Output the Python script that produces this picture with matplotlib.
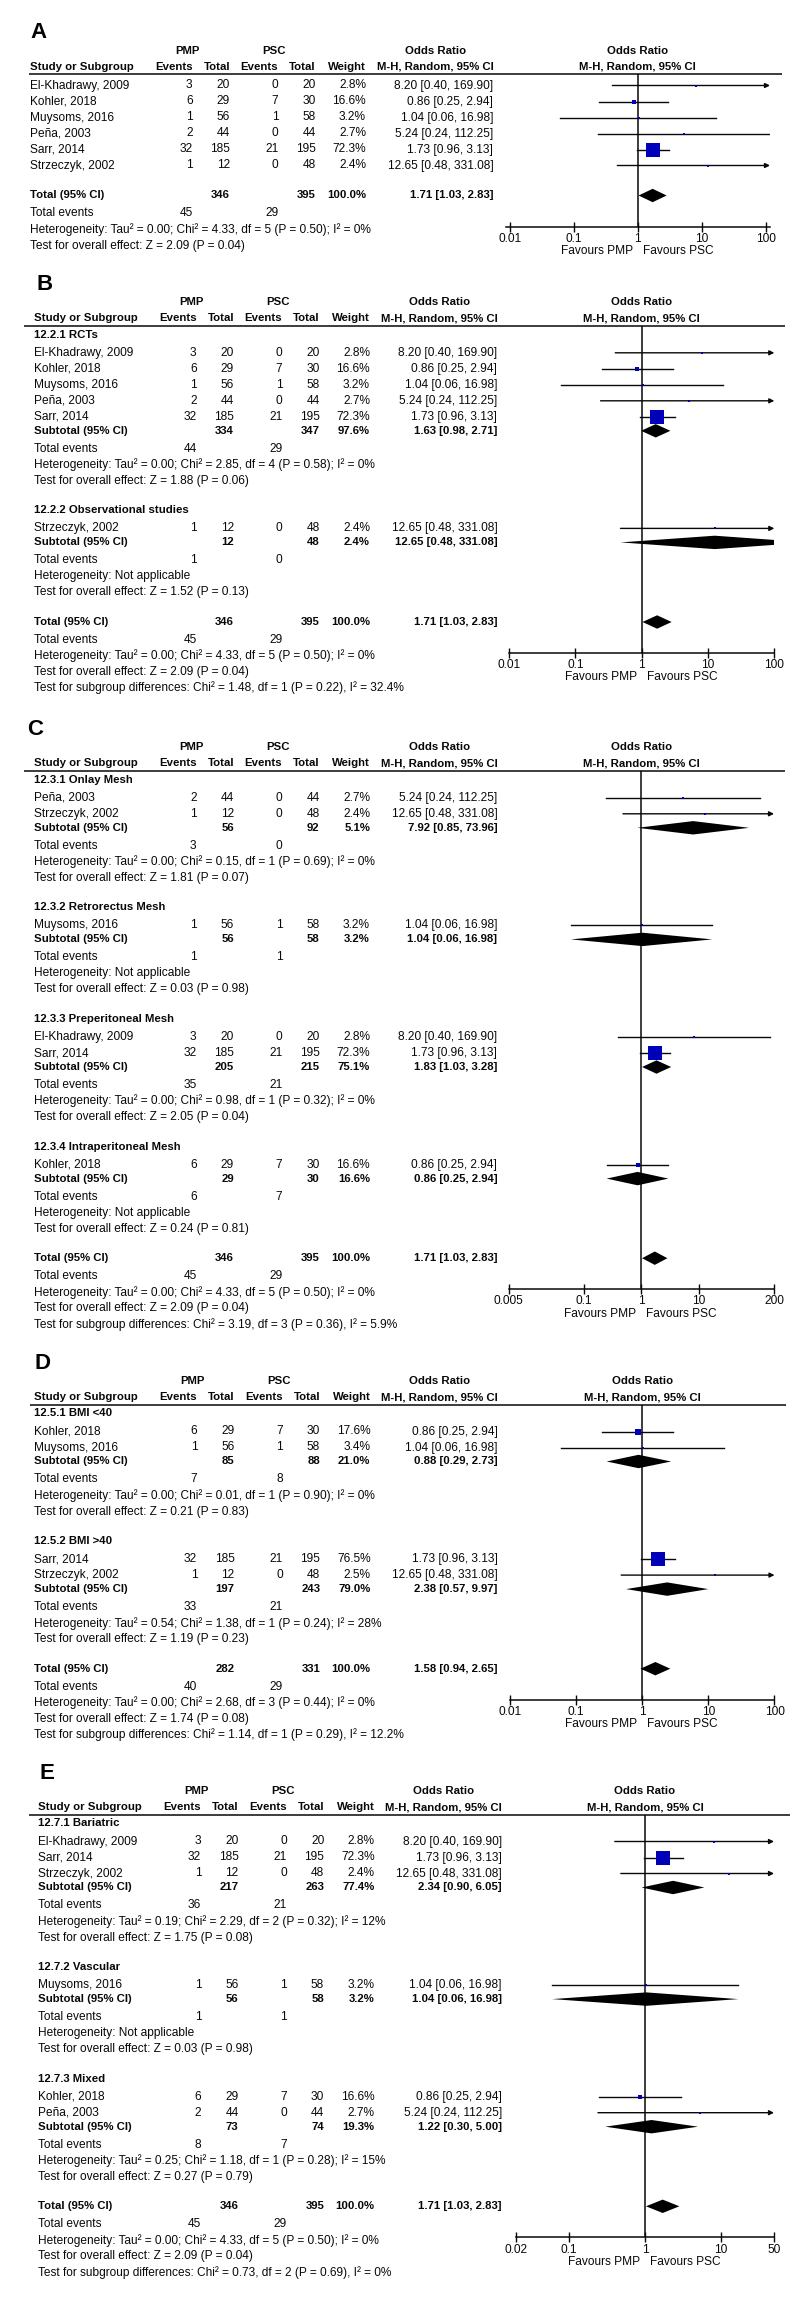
import matplotlib
matplotlib.use('Agg')
import matplotlib.pyplot as plt
from matplotlib.ticker import NullLocator

plt.rcParams['font.family'] = ['Liberation Sans', 'DejaVu Sans']

W, H = 800, 2310
TXT = '#080808'
BLUE = '#0000b8'
FS = 8.6    # regular text
FSB = 8.2   # bold text

# ---- individual studies (same in every panel) ----
study_names = ['El-Khadrawy, 2009', 'Kohler, 2018', 'Muysoms, 2016',
               'Peña, 2003', 'Sarr, 2014', 'Strzeczyk, 2002']
pmp_events = [3, 6, 1, 2, 32, 1]
pmp_total = [20, 29, 56, 44, 185, 12]
psc_events = [0, 7, 1, 0, 21, 0]
psc_total = [20, 30, 58, 44, 195, 48]
or_est = [8.20, 0.86, 1.04, 5.24, 1.73, 12.65]
or_low = [0.40, 0.25, 0.06, 0.24, 0.96, 0.48]
or_high = [169.90, 2.94, 16.98, 112.25, 3.13, 331.08]
weights = [2.8, 16.6, 3.2, 2.7, 72.3, 2.4]
weights_bmi = [0, 17.6, 3.4, 0, 76.5, 2.5]

# ---- overall result (A, B, C, E) ----
all_n = (346, 395)
all_or = (1.71, 1.03, 2.83)
all_events = (45, 29)
all_het = 'Heterogeneity: Tau² = 0.00; Chi² = 4.33, df = 5 (P = 0.50); I² = 0%'
all_z = 'Test for overall effect: Z = 2.09 (P = 0.04)'

# ---- B: study design ----
b_titles = ['12.2.1 RCTs', '12.2.2 Observational studies']
b_members = [[0, 1, 2, 3, 4], [5]]
b_n = [(334, 347), (12, 48)]
b_w = [97.6, 2.4]
b_or = [(1.63, 0.98, 2.71), (12.65, 0.48, 331.08)]
b_events = [(44, 29), (1, 0)]
b_het = ['Heterogeneity: Tau² = 0.00; Chi² = 2.85, df = 4 (P = 0.58); I² = 0%',
         'Heterogeneity: Not applicable']
b_z = ['Test for overall effect: Z = 1.88 (P = 0.06)',
       'Test for overall effect: Z = 1.52 (P = 0.13)']
b_diff = 'Test for subgroup differences: Chi² = 1.48, df = 1 (P = 0.22), I² = 32.4%'

# ---- C: mesh position ----
c_titles = ['12.3.1 Onlay Mesh', '12.3.2 Retrorectus Mesh',
            '12.3.3 Preperitoneal Mesh', '12.3.4 Intraperitoneal Mesh']
c_members = [[3, 5], [2], [0, 4], [1]]
c_n = [(56, 92), (56, 58), (205, 215), (29, 30)]
c_w = [5.1, 3.2, 75.1, 16.6]
c_or = [(7.92, 0.85, 73.96), (1.04, 0.06, 16.98), (1.83, 1.03, 3.28), (0.86, 0.25, 2.94)]
c_events = [(3, 0), (1, 1), (35, 21), (6, 7)]
c_het = ['Heterogeneity: Tau² = 0.00; Chi² = 0.15, df = 1 (P = 0.69); I² = 0%',
         'Heterogeneity: Not applicable',
         'Heterogeneity: Tau² = 0.00; Chi² = 0.98, df = 1 (P = 0.32); I² = 0%',
         'Heterogeneity: Not applicable']
c_z = ['Test for overall effect: Z = 1.81 (P = 0.07)',
       'Test for overall effect: Z = 0.03 (P = 0.98)',
       'Test for overall effect: Z = 2.05 (P = 0.04)',
       'Test for overall effect: Z = 0.24 (P = 0.81)']
c_diff = 'Test for subgroup differences: Chi² = 3.19, df = 3 (P = 0.36), I² = 5.9%'

# ---- D: BMI ----
d_titles = ['12.5.1 BMI <40', '12.5.2 BMI >40']
d_members = [[1, 2], [4, 5]]
d_n = [(85, 88), (197, 243)]
d_w = [21.0, 79.0]
d_or = [(0.88, 0.29, 2.73), (2.38, 0.57, 9.97)]
d_events = [(7, 8), (33, 21)]
d_het = ['Heterogeneity: Tau² = 0.00; Chi² = 0.01, df = 1 (P = 0.90); I² = 0%',
         'Heterogeneity: Tau² = 0.54; Chi² = 1.38, df = 1 (P = 0.24); I² = 28%']
d_z = ['Test for overall effect: Z = 0.21 (P = 0.83)',
       'Test for overall effect: Z = 1.19 (P = 0.23)']
d_total_n = (282, 331)
d_total_or = (1.58, 0.94, 2.65)
d_total_events = (40, 29)
d_total_het = 'Heterogeneity: Tau² = 0.00; Chi² = 2.68, df = 3 (P = 0.44); I² = 0%'
d_total_z = 'Test for overall effect: Z = 1.74 (P = 0.08)'
d_diff = 'Test for subgroup differences: Chi² = 1.14, df = 1 (P = 0.29), I² = 12.2%'

# ---- E: surgery type ----
e_titles = ['12.7.1 Bariatric', '12.7.2 Vascular', '12.7.3 Mixed']
e_members = [[0, 4, 5], [2], [1, 3]]
e_n = [(217, 263), (56, 58), (73, 74)]
e_w = [77.4, 3.2, 19.3]
e_or = [(2.34, 0.90, 6.05), (1.04, 0.06, 16.98), (1.22, 0.30, 5.00)]
e_events = [(36, 21), (1, 1), (8, 7)]
e_het = ['Heterogeneity: Tau² = 0.19; Chi² = 2.29, df = 2 (P = 0.32); I² = 12%',
         'Heterogeneity: Not applicable',
         'Heterogeneity: Tau² = 0.25; Chi² = 1.18, df = 1 (P = 0.28); I² = 15%']
e_z = ['Test for overall effect: Z = 1.75 (P = 0.08)',
       'Test for overall effect: Z = 0.03 (P = 0.98)',
       'Test for overall effect: Z = 0.27 (P = 0.79)']
e_diff = 'Test for subgroup differences: Chi² = 0.73, df = 2 (P = 0.69), I² = 0%'

# axis ticks of each forest plot
ticks_std = [0.01, 0.1, 1, 10, 100]
ticks_c = [0.005, 0.1, 1, 10, 200]
ticks_e = [0.02, 0.1, 1, 10, 50]


def fmt_or(v):
    return f'{v[0]:.2f} [{v[1]:.2f}, {v[2]:.2f}]'


fig = plt.figure(figsize=(W / 100, H / 100), dpi=100)
bg = fig.add_axes([0, 0, 1, 1])
bg.set_xlim(0, W)
bg.set_ylim(H, 0)
bg.axis('off')

base_cols = {'name': 30, 'ev1': 192.7, 'n1': 230, 'ev2': 278.3, 'n2': 315.7, 'wt': 366, 'ci': 493.3}


def txt(x, y, s, bold=False, ha='left', ax=None):
    (ax or bg).text(x, y, s, ha=ha, va='center', color=TXT,
                    fontsize=FSB if bold else FS, fontweight='bold' if bold else 'normal')


def panel(letter, top, dx, lab_x, line_x, fx, xlim, ticks, groups, w, total, diff=None):
    col = {k: v + dx for k, v in base_cols.items()}
    bg.text(lab_x, top - 17.5, letter, fontsize=16, fontweight='bold', va='center', color='black')
    txt(187.5 + dx, top, 'PMP', True, 'center')
    txt(274 + dx, top, 'PSC', True, 'center')
    txt(col['ci'] - 58, top, 'Odds Ratio', True, 'center')
    y_hdr = top + 16
    txt(col['name'], y_hdr, 'Study or Subgroup', True)
    for k, s in [('ev1', 'Events'), ('n1', 'Total'), ('ev2', 'Events'), ('n2', 'Total'),
                 ('wt', 'Weight'), ('ci', 'M-H, Random, 95% CI')]:
        txt(col[k], y_hdr, s, True, 'right')
    y_line = y_hdr + 7.5
    bg.plot(line_x, [y_line, y_line], color=TXT, lw=1.1, solid_capstyle='butt')

    marks = []

    def study_row(y, i):
        txt(col['name'], y, study_names[i])
        txt(col['ev1'], y, str(pmp_events[i]), ha='right')
        txt(col['n1'], y, str(pmp_total[i]), ha='right')
        txt(col['ev2'], y, str(psc_events[i]), ha='right')
        txt(col['n2'], y, str(psc_total[i]), ha='right')
        txt(col['wt'], y, f'{w[i]:.1f}%', ha='right')
        txt(col['ci'], y, fmt_or((or_est[i], or_low[i], or_high[i])), ha='right')
        marks.append(('study', y, (or_est[i], or_low[i], or_high[i]), w[i]))

    def summary_rows(y, label, n, wt, orv, ev, het, z):
        txt(col['name'], y, label, True)
        txt(col['n1'], y, str(n[0]), True, 'right')
        txt(col['n2'], y, str(n[1]), True, 'right')
        txt(col['wt'], y, f'{wt:.1f}%', True, 'right')
        txt(col['ci'], y, fmt_or(orv), True, 'right')
        marks.append(('diamond', y, orv, wt))
        y += 18
        txt(col['name'], y, 'Total events')
        txt(col['ev1'], y, str(ev[0]), ha='right')
        txt(col['ev2'], y, str(ev[1]), ha='right')
        y += 16
        txt(col['name'], y, het)
        y_het = y
        y += 16
        txt(col['name'], y, z)
        return y, y_het

    y = y_line
    if groups is None:
        y += 11.5 - 16
        for i in range(len(study_names)):
            y += 16
            study_row(y, i)
        y += 30
    else:
        for g, (title, members, n, wt, orv, ev, het, z) in enumerate(groups):
            y += 9 if g == 0 else 29.6
            txt(col['name'], y, title, True)
            y += 2
            for i in members:
                y += 16
                study_row(y, i)
            y += 14
            y, _ = summary_rows(y, 'Subtotal (95% CI)', n, wt, orv, ev, het, z)
        y += 29.6
    y, y_het = summary_rows(y, 'Total (95% CI)', total[0], 100.0, total[1], total[2], total[3], total[4])
    if diff:
        txt(col['name'], y + 16, diff)

    # forest plot
    y_axis = y_het - 3
    ax = fig.add_axes([fx[0] / W, 1 - y_axis / H, (fx[1] - fx[0]) / W, (y_axis - y_line) / H])
    ax.patch.set_alpha(0)
    ax.set_xscale('log')
    ax.set_xlim(*xlim)
    ax.set_ylim(y_axis, y_line)
    for s in ['top', 'left', 'right']:
        ax.spines[s].set_visible(False)
    ax.spines['bottom'].set_color(TXT)
    ax.spines['bottom'].set_linewidth(1.1)
    ax.set_yticks([])
    ax.set_xticks(ticks)
    ax.set_xticklabels([f'{t:g}' for t in ticks])
    ax.xaxis.set_minor_locator(NullLocator())
    ax.tick_params(axis='x', direction='inout', length=7, width=1, pad=1,
                   labelsize=FS, colors=TXT)
    ax.axvline(1, color=TXT, lw=1.1, zorder=1)
    ax.text(1, top, 'Odds Ratio', ha='center', va='center', color=TXT, fontsize=FSB, fontweight='bold')
    ax.text(1, y_hdr, 'M-H, Random, 95% CI', ha='center', va='center', color=TXT,
            fontsize=FSB, fontweight='bold')
    ax.annotate('Favours PMP', xy=(1, y_axis), xytext=(-5, -24.5), textcoords='offset pixels',
                ha='right', va='center', fontsize=FS, color=TXT, annotation_clip=False)
    ax.annotate('Favours PSC', xy=(1, y_axis), xytext=(5, -24.5), textcoords='offset pixels',
                ha='left', va='center', fontsize=FS, color=TXT, annotation_clip=False)

    for kind, ym, (est, lo, hi), wt in marks:
        if kind == 'study':
            if hi > xlim[1]:
                ax.annotate('', xy=(xlim[1], ym), xytext=(lo, ym), annotation_clip=False,
                            arrowprops=dict(arrowstyle='-|>', color=TXT, lw=1,
                                            mutation_scale=7, shrinkA=0, shrinkB=0))
            else:
                ax.plot([lo, hi], [ym, ym], color=TXT, lw=1, zorder=2)
            side = 13.7 * (wt / 72.3) ** 0.7 * 0.72
            ax.scatter([est], [ym], marker='s', s=side ** 2, color=BLUE, linewidths=0, zorder=3)
        else:
            ax.fill([lo, est, hi, est], [ym, ym - 6.7, ym, ym + 6.7], color='black', lw=0, zorder=3)


panel('A', 50.5, 0, 30, [29, 782], (506, 770), (0.0087, 117), ticks_std,
      None, weights, (all_n, all_or, all_events, all_het, all_z))
panel('B', 302.3, 4, 36.7, [24, 785], (509, 774.3), (0.01, 100), ticks_std,
      list(zip(b_titles, b_members, b_n, b_w, b_or, b_events, b_het, b_z)), weights,
      (all_n, all_or, all_events, all_het, all_z), b_diff)
panel('C', 747.3, 4, 27, [24, 785], (508.7, 774), (0.005, 200), ticks_c,
      list(zip(c_titles, c_members, c_n, c_w, c_or, c_events, c_het, c_z)), weights,
      (all_n, all_or, all_events, all_het, all_z), c_diff)
panel('D', 1381, 4.5, 34, [30, 786], (510, 774.5), (0.01, 100), ticks_std,
      list(zip(d_titles, d_members, d_n, d_w, d_or, d_events, d_het, d_z)), weights_bmi,
      (d_total_n, d_total_or, d_total_events, d_total_het, d_total_z), d_diff)
panel('E', 1791, 8.5, 39.8, [29, 790], (516, 774), (0.02, 50), ticks_e,
      list(zip(e_titles, e_members, e_n, e_w, e_or, e_events, e_het, e_z)), weights,
      (all_n, all_or, all_events, all_het, all_z), e_diff)

fig.savefig('out.png', dpi=100, facecolor='white')
